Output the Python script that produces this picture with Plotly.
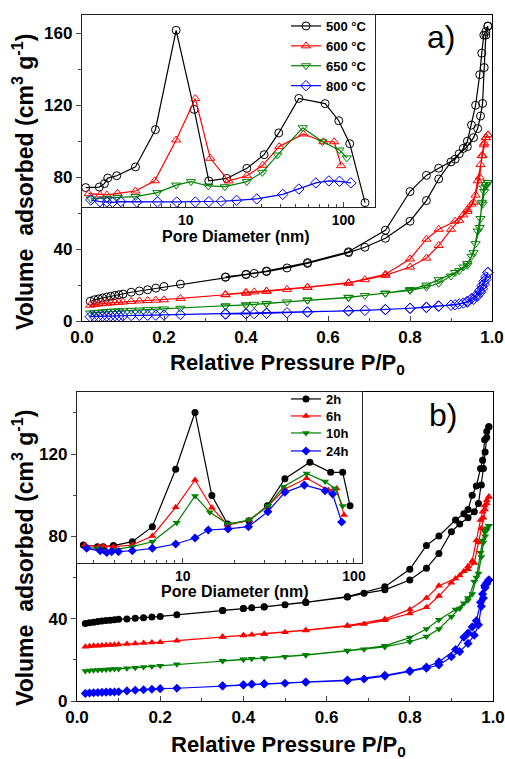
import plotly.graph_objects as go

W, H = 505, 759
FONT = "Liberation Sans, Arial, sans-serif"


def fx(p):
    return p / W


def fy(p):
    return 1 - p / H


# ---------------- data ----------------
P_ADS = [0.02, 0.03, 0.04, 0.05, 0.06, 0.07, 0.08, 0.09, 0.10, 0.12, 0.14, 0.16, 0.18, 0.20, 0.24,
         0.35, 0.40, 0.45, 0.50, 0.55, 0.65, 0.69, 0.74, 0.80, 0.84, 0.87, 0.90, 0.92, 0.94, 0.955,
         0.965, 0.972, 0.977, 0.981, 0.985, 0.99]
P_DES = [0.99, 0.985, 0.98, 0.975, 0.97, 0.96, 0.95, 0.94, 0.93, 0.91, 0.87, 0.84, 0.80, 0.74,
         0.65, 0.55, 0.45, 0.42, 0.40, 0.35]

# panel a (calcination temperature)
A500_ADS = [11, 11.8, 12.3, 12.8, 13.3, 13.8, 14.2, 14.6, 15, 16, 16.7, 17.4, 18.3, 19.2, 20.5, 24.3,
            25.8, 27.5, 29.5, 32, 38, 41, 46, 55.5, 67, 79, 88.5, 93, 97, 102, 107, 114, 121, 141, 159, 164]
A500_DES = [164, 161, 159, 149, 137, 120, 109, 100, 96, 90, 85, 81, 72, 50.5, 38.5, 32.5, 27.8, 26.5, 26, 24.5]
A600_ADS = [8.8, 9.2, 9.5, 9.7, 9.9, 10.1, 10.3, 10.4, 10.6, 10.9, 11.2, 11.4, 11.6, 11.8, 12.6, 14.6,
            15.4, 16.5, 17.6, 18.7, 21, 23, 25.4, 30, 35, 42, 51, 56, 61, 66, 78, 87, 92, 99, 102, 103.5]
A600_DES = [103.5, 102, 98, 92, 80, 70, 65, 62, 59, 55.5, 51, 45.5, 34.5, 26, 21.3, 18.8, 16.7, 16.2, 16, 14.8]
A650_ADS = [4.4, 4.6, 4.8, 5, 5.2, 5.4, 5.5, 5.6, 5.7, 5.9, 6.1, 6.3, 6.5, 6.7, 7.1, 8.3, 8.8, 9.6,
            10.6, 11.5, 13, 14.2, 15.4, 17, 18.8, 21, 25, 28, 31, 38, 50, 57, 65, 72, 75, 77]
A650_DES = [77, 76, 74, 66, 52, 43, 36, 32, 30, 27, 23, 20, 17.5, 15.5, 13.2, 11.7, 9.8, 9.3, 9, 8.4]
A800_ADS = [2.4, 2.5, 2.6, 2.7, 2.75, 2.8, 2.9, 2.95, 3, 3.05, 3.1, 3.2, 3.25, 3.3, 3.6, 3.9, 4.0, 4.3,
            4.6, 5, 5.6, 5.9, 6.3, 7, 7.5, 8.2, 8.8, 9.5, 10.5, 12, 14, 16, 18, 20.5, 23, 27]
A800_DES = [27, 24.5, 22, 19.5, 17, 14, 12.5, 11, 10, 9, 8.4, 7.7, 7.1, 6.4, 5.7, 5, 4.3, 4.1, 4.0, 3.9]

# panel b (time)
B2_ADS = [37.7, 38, 38.3, 38.6, 38.9, 39.1, 39.3, 39.5, 39.7, 39.9, 40.2, 40.5, 40.8, 41.1, 41.9, 44,
          44.9, 45.7, 46.8, 47.9, 50.5, 52.3, 54, 58.8, 64.5, 71.7, 82.3, 86, 89, 92, 96, 105, 113, 121, 128, 133.3]
B2_DES = [133.3, 131, 127, 117, 113, 104.5, 100, 93, 91, 88, 80.2, 75.6, 64, 55.5, 50.7, 48, 45.8, 45.3, 45, 44]
B6_ADS = [26.4, 26.6, 26.8, 26.9, 27.0, 27.1, 27.2, 27.3, 27.4, 27.7, 27.9, 28.2, 28.4, 28.6, 29.3, 31.1,
          31.8, 32.5, 33.4, 34.3, 36.4, 37.4, 39.2, 42.5, 45.5, 51, 57.5, 61, 64, 67, 77, 84, 89, 93, 96, 99.3]
B6_DES = [99.3, 97.5, 95, 92, 88, 78, 68, 65.5, 63, 59.5, 56, 50, 44.5, 39.8, 36.7, 34.4, 32.6, 32.2, 31.9, 31.2]
B10_ADS = [14.6, 14.8, 15.0, 15.1, 15.2, 15.3, 15.4, 15.5, 15.6, 15.9, 16.2, 16.5, 16.8, 17.1, 17.8, 19.4,
           20.2, 20.8, 21.5, 22.3, 24.3, 25.1, 26.3, 28.8, 31.3, 35, 41, 45, 49, 58, 62, 70, 77, 80, 83, 85.2]
B10_DES = [85.2, 84, 82.3, 78, 72, 60, 52, 50, 47.5, 44.5, 39.5, 35, 30.8, 26.8, 24.5, 22.4, 20.9, 20.5, 20.3, 19.5]
B24_ADS = [3.7, 3.9, 4.0, 4.1, 4.2, 4.3, 4.35, 4.4, 4.5, 4.9, 5.2, 5.5, 5.7, 6.0, 6.2, 7.3, 7.8, 8.3,
           8.6, 9.1, 9.9, 10.7, 12.1, 14.3, 15.9, 17.5, 21.5, 24, 28, 32, 37, 46, 50, 55, 57, 58.8]
B24_DES = [58.8, 57.5, 56, 52, 48, 39, 36, 33, 31, 25, 19, 16.5, 14.7, 12.5, 10.2, 9.2, 8.4, 8.2, 7.9, 7.4]

# inset a: pore size distributions (plotted on main-axis units)
D500 = [2.32, 2.83, 3.05, 3.20, 3.65, 4.80, 6.42, 8.69, 11.3, 14.0, 18.2, 24.4, 31.4, 38.9, 52.1, 76.5, 93.4, 109.6, 137]
V500 = [74.2, 74.5, 76.4, 79.5, 80.8, 85.7, 106.4, 161.7, 117.7, 77.9, 79.3, 84.9, 92.5, 104.6, 123.8, 120.9, 111.4, 98.6, 65.8]
D600 = [2.42, 2.86, 3.16, 3.69, 4.80, 6.36, 8.69, 11.5, 14.3, 18.7, 24.4, 30.8, 39.1, 55.7, 74.6, 87.3, 96.7]
V600 = [70.8, 70.1, 70.1, 71.0, 72.3, 78.0, 100.7, 123.7, 90.5, 77.9, 80.8, 86.6, 97.0, 104.0, 99.7, 99.7, 86.4]
D650 = [2.50, 3.16, 3.69, 4.80, 6.61, 8.69, 10.8, 13.9, 17.7, 24.4, 30.6, 38.1, 55.2, 73.6, 94.4, 105]
V650 = [67.9, 68.2, 68.8, 69.2, 71.4, 75.6, 77.5, 75.1, 74.7, 77.5, 82.7, 92.3, 107.5, 99.7, 95.1, 90.7]
D800 = [2.50, 2.86, 3.16, 3.43, 3.87, 4.89, 6.61, 8.77, 11.5, 14.0, 16.8, 21.0, 28.2, 41.2, 52.1, 66.8, 80.8, 94.4, 111.4]
V800 = [67.3, 66.4, 66.2, 66.0, 66.4, 66.2, 66.2, 66.2, 66.2, 66.4, 66.6, 67.1, 67.9, 70.4, 73.4, 76.8, 77.9, 77.7, 76.8]

# inset b
D2 = [2.63, 3.18, 3.44, 3.94, 5.08, 6.65, 9.10, 11.8, 14.8, 18.3, 24.4, 31.2, 39.5, 55.3, 73.1, 85.9, 94.8]
V2 = [75.8, 75.0, 75.0, 75.5, 77.4, 84.7, 112.6, 140.2, 99.8, 86.0, 87.6, 94.9, 108.0, 116.0, 111.1, 111.1, 94.9]
D6 = [2.69, 3.22, 3.44, 3.94, 5.08, 6.65, 9.10, 11.8, 14.8, 18.3, 24.4, 31.2, 39.5, 52.9, 70.8, 79.2, 87.5]
V6 = [75.8, 75.0, 75.3, 75.0, 75.8, 80.2, 94.1, 107.4, 93.9, 85.5, 87.9, 94.4, 103.0, 108.2, 102.5, 103.3, 90.4]
D10 = [2.75, 3.27, 3.44, 3.94, 5.08, 6.65, 9.22, 11.8, 14.4, 18.4, 24.4, 31.6, 38.7, 52.9, 67.8, 77.4, 85.9]
V10 = [74.5, 74.2, 73.0, 73.4, 75.0, 77.4, 86.6, 99.6, 91.7, 86.0, 87.9, 94.9, 104.1, 110.6, 106.6, 103.3, 94.7]
D24 = [2.75, 3.30, 3.60, 3.85, 4.22, 5.08, 6.65, 9.10, 11.8, 14.1, 18.4, 24.2, 31.4, 39.5, 51.3, 67.8, 75.0, 84.7]
V24 = [74.2, 73.0, 72.2, 72.6, 72.6, 73.0, 74.2, 76.3, 79.2, 83.1, 83.6, 84.7, 92.0, 101.4, 104.9, 102.2, 100.6, 87.0]

NAMES_A = ["500 °C", "600 °C", "650 °C", "800 °C"]
NAMES_B = ["2h", "6h", "10h", "24h"]
COLORS = ["#000000", "#ff0000", "#008000", "#0000ff"]
SYM_A = ["circle-open", "triangle-up-open", "triangle-down-open", "diamond-open"]
SYM_B = ["circle", "triangle-up", "triangle-down", "diamond"]

ISO_A = [(A500_ADS, A500_DES), (A600_ADS, A600_DES), (A650_ADS, A650_DES), (A800_ADS, A800_DES)]
ISO_B = [(B2_ADS, B2_DES), (B6_ADS, B6_DES), (B10_ADS, B10_DES), (B24_ADS, B24_DES)]
PSD_A = [(D500, V500), (D600, V600), (D650, V650), (D800, V800)]
PSD_B = [(D2, V2), (D6, V6), (D10, V10), (D24, V24)]

# legend row positions (px from top) for the panel-b inset legend entries
LEG_B_ROWS = [399, 416, 433, 451]

fig = go.Figure()

# main isotherms
for i in range(4):
    ads, des = ISO_A[i]
    fig.add_trace(go.Scatter(
        x=P_ADS + P_DES, y=ads + des, mode="lines+markers", xaxis="x", yaxis="y",
        line=dict(color=COLORS[i], width=1.2),
        marker=dict(symbol=SYM_A[i], size=8, color=COLORS[i], line=dict(width=1, color=COLORS[i])),
        showlegend=False, cliponaxis=False))
for i in range(4):
    ads, des = ISO_B[i]
    fig.add_trace(go.Scatter(
        x=P_ADS + P_DES, y=ads + des, mode="lines+markers", xaxis="x3", yaxis="y3",
        line=dict(color=COLORS[i], width=1.2),
        marker=dict(symbol=SYM_B[i], size=7, color=COLORS[i], line=dict(width=0)),
        showlegend=False, cliponaxis=False))

# insets
for i in range(4):
    d, v = PSD_A[i]
    fig.add_trace(go.Scatter(
        x=d, y=v, mode="lines+markers", xaxis="x2", yaxis="y2", name=NAMES_A[i],
        line=dict(color=COLORS[i], width=1.2),
        marker=dict(symbol=SYM_A[i], size=8, color=COLORS[i], line=dict(width=1, color=COLORS[i])),
        legend="legend", legendgroup="a%d" % i, cliponaxis=False))
for i in range(4):
    d, v = PSD_B[i]
    fig.add_trace(go.Scatter(
        x=d, y=v, mode="lines+markers", xaxis="x4", yaxis="y4", name=NAMES_B[i],
        line=dict(color=COLORS[i], width=1.2),
        marker=dict(symbol=SYM_B[i], size=7, color=COLORS[i], line=dict(width=0)),
        legend="legend%d" % (i + 2), cliponaxis=False))

tickfont = dict(family=FONT, size=17, color="black", weight="bold")
insetfont = dict(family=FONT, size=14, color="black", weight="bold")

main_x = dict(range=[0, 1.0], dtick=0.2, tickformat=".1f", ticks="inside", ticklen=5, tickwidth=1.2,
              minor=dict(dtick=0.1, ticks="inside", ticklen=3), showline=True, linecolor="black",
              linewidth=1.3, mirror=True, showgrid=False, zeroline=False, tickfont=tickfont,
              automargin=False)
main_y = dict(dtick=40, ticks="outside", ticklen=5, tickwidth=1.2,
              minor=dict(dtick=20, ticks="outside", ticklen=3), showline=True, linecolor="black",
              linewidth=1.3, mirror=True, showgrid=False, zeroline=False, tickfont=tickfont,
              automargin=False)

minor_log = [2, 3, 4, 5, 6, 7, 8, 9, 20, 30, 40, 50, 60, 70, 80, 90]
inset_x = dict(type="log", tickvals=[10, 100], ticktext=["10", "100"], ticks="inside", ticklen=5,
               minor=dict(tickvals=minor_log, ticks="inside", ticklen=3),
               showline=True, linecolor="#222", linewidth=1, mirror=True, showgrid=False,
               zeroline=False, tickfont=insetfont, automargin=False)
inset_y = dict(showticklabels=False, ticks="", showline=True, linecolor="#222", linewidth=1,
               mirror=True, showgrid=False, zeroline=False, automargin=False)

legfont = dict(family=FONT, size=13, color="black", weight="bold")
legends = {}
legends["legend"] = dict(x=fx(286), y=fy(11), xanchor="left", yanchor="top",
                         bgcolor="rgba(0,0,0,0)", font=legfont, tracegroupgap=0,
                         itemwidth=30, borderwidth=0)
for i, row in enumerate(LEG_B_ROWS):
    legends["legend%d" % (i + 2)] = dict(x=fx(286), y=fy(row - 15), xanchor="left", yanchor="top",
                                         bgcolor="rgba(0,0,0,0)", font=legfont, itemwidth=30,
                                         borderwidth=0)

fig.update_layout(
    template="none",
    width=W, height=H, margin=dict(l=0, r=0, t=0, b=0, pad=0), autosize=False,
    paper_bgcolor="white", plot_bgcolor="white",
    xaxis=dict(main_x, domain=[fx(82), fx(492)], anchor="y"),
    yaxis=dict(main_y, range=[0, 170.2], domain=[fy(321), fy(15)], anchor="x"),
    xaxis2=dict(inset_x, range=[0.342, 2.20], domain=[fx(82), fx(375)], anchor="y2"),
    yaxis2=dict(inset_y, range=[63.4, 170.2], domain=[fy(207), fy(15)], anchor="x2"),
    xaxis3=dict(main_x, domain=[fx(77), fx(493)], anchor="y3"),
    yaxis3=dict(main_y, range=[0, 150.3], domain=[fy(701), fy(391.7)], anchor="x3"),
    xaxis4=dict(inset_x, range=[0.383, 2.045], domain=[fx(77), fx(361.7)], anchor="y4"),
    yaxis4=dict(inset_y, range=[67.2, 150.3], domain=[fy(562.7), fy(391.7)], anchor="x4"),
    **legends,
)

ann = []
ytitle = "Volume\u00a0 adsorbed (cm<sup>3</sup> g<sup>-1</sup>)"
xtitle = "Relative Pressure P/P<sub>0</sub>"
tf = dict(family=FONT, size=23, color="black", weight="bold")
for xc, yc in [(23, 182), (23, 558)]:
    ann.append(dict(text=ytitle, x=fx(xc), y=fy(yc), xref="paper", yref="paper", textangle=-90,
                    showarrow=False, font=tf, xanchor="center", yanchor="middle"))
for xc, yc in [(287, 364), (288, 746)]:
    ann.append(dict(text=xtitle, x=fx(xc), y=fy(yc), xref="paper", yref="paper",
                    showarrow=False, font=dict(tf, size=22), xanchor="center", yanchor="middle"))
for xc, yc in [(236, 236), (234.5, 591)]:
    ann.append(dict(text="Pore Diameter (nm)", x=fx(xc), y=fy(yc), xref="paper", yref="paper",
                    showarrow=False, font=dict(family=FONT, size=16, color="black", weight="bold"),
                    xanchor="center", yanchor="middle"))
for t, xc, yc in [("a)", 441, 37), ("b)", 443, 415)]:
    ann.append(dict(text=t, x=fx(xc), y=fy(yc), xref="paper", yref="paper", showarrow=False,
                    font=dict(family=FONT, size=32, color="black"), xanchor="center", yanchor="middle"))
fig.update_layout(annotations=ann)

fig.write_html("out.html", config={"displayModeBar": False},
               post_script="document.body.style.margin='0px';document.body.style.overflow='hidden';")
